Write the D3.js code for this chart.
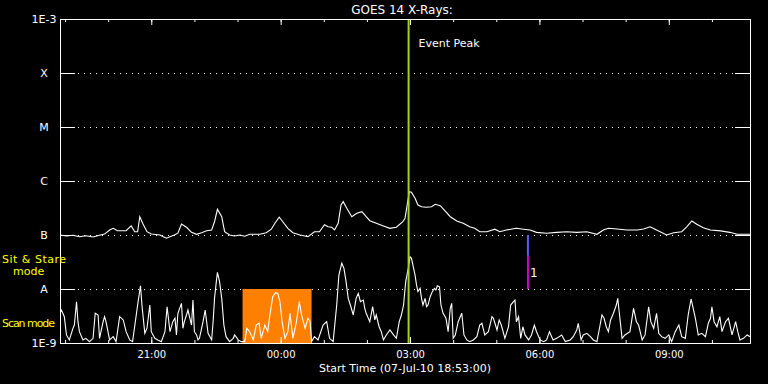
<!DOCTYPE html>
<html>
<head>
<meta charset="utf-8">
<script src="https://cdn.jsdelivr.net/npm/d3@7"></script>
<style>
  html, body { margin: 0; padding: 0; background: #000; }
  svg { display: block; }
  text { font-family: "DejaVu Sans", sans-serif; fill: #fff; }
</style>
</head>
<body>
<svg id="chart" width="768" height="384"></svg>
<script>
// start of the plot: 07-Jul-10 18:53:00 UT, 16 hours shown
const startTime = Date.UTC(2010, 6, 7, 18, 53);
const spanHours = 16;

// flux levels on the log axis and their labels
const levelValues = [1e-9, 1e-8, 1e-7, 1e-6, 1e-5, 1e-4, 1e-3];
const levelLabels = ['1E-9', 'A', 'B', 'C', 'M', 'X', '1E-3'];

// long channel (upper trace), minutes from start / flux W m^-2
const longMinutes = [0, 9, 18, 27, 36, 46, 55, 62, 69, 74, 80, 92, 99, 104, 108, 111, 115, 121, 127, 139,
  148, 159, 164, 169, 176, 183, 190, 197, 204, 211, 215, 219, 225, 229, 236, 243, 250, 257, 264, 278,
  287, 294, 299, 305, 310, 317, 324, 334, 345, 354, 361, 368, 373, 378, 382, 387, 391, 394, 399, 406,
  413, 420, 426, 431, 440, 450, 459, 468, 477, 480, 483, 486, 489, 494, 498, 503, 510, 517, 522, 529,
  536, 543, 552, 561, 570, 577, 584, 594, 605, 612, 621, 635, 645, 654, 663, 677, 691, 705, 719, 733,
  747, 756, 763, 775, 789, 803, 812, 821, 830, 844, 854, 865, 872, 879, 886, 895, 905, 919, 932, 942, 960];
const longFlux = [1.00e-7, 0.96e-7, 0.99e-7, 0.93e-7, 0.97e-7, 0.92e-7, 0.99e-7, 1.04e-7, 1.24e-7, 1.33e-7,
  1.20e-7, 1.20e-7, 1.47e-7, 1.15e-7, 1.15e-7, 2.18e-7, 1.65e-7, 1.15e-7, 1.04e-7, 1.00e-7,
  0.87e-7, 1.00e-7, 1.08e-7, 1.60e-7, 1.39e-7, 1.12e-7, 1.03e-7, 1.10e-7, 1.20e-7, 1.24e-7,
  1.76e-7, 2.99e-7, 2.18e-7, 1.15e-7, 1.00e-7, 0.96e-7, 1.00e-7, 0.95e-7, 1.03e-7, 1.03e-7,
  1.10e-7, 1.28e-7, 1.65e-7, 2.13e-7, 1.76e-7, 1.33e-7, 1.10e-7, 1.00e-7, 0.93e-7, 1.15e-7,
  1.15e-7, 1.55e-7, 1.42e-7, 1.39e-7, 1.24e-7, 1.65e-7, 3.59e-7, 4.14e-7, 3.12e-7, 2.18e-7,
  2.52e-7, 2.70e-7, 2.18e-7, 1.84e-7, 1.65e-7, 1.47e-7, 1.33e-7, 1.39e-7, 1.76e-7, 2.04e-7,
  3.59e-7, 6.34e-7, 6.18e-7, 4.78e-7, 3.59e-7, 3.34e-7, 3.26e-7, 3.34e-7, 3.70e-7, 3.49e-7,
  2.78e-7, 2.18e-7, 1.82e-7, 1.65e-7, 1.42e-7, 1.33e-7, 1.15e-7, 1.15e-7, 1.28e-7, 1.15e-7,
  1.24e-7, 1.33e-7, 1.28e-7, 1.24e-7, 1.12e-7, 1.08e-7, 1.12e-7, 1.15e-7, 1.12e-7, 1.15e-7,
  1.03e-7, 1.24e-7, 1.33e-7, 1.29e-7, 1.24e-7, 1.24e-7, 1.29e-7, 1.42e-7, 1.24e-7, 1.00e-7,
  1.10e-7, 1.15e-7, 1.42e-7, 1.82e-7, 1.58e-7, 1.36e-7, 1.24e-7, 1.19e-7, 1.12e-7, 1.03e-7, 1.03e-7];

// short channel (lower trace), minutes from start / flux W m^-2
const shortMinutes = [0, 2, 6, 9, 13, 18, 20, 23, 25, 27, 32, 36, 41, 46, 49, 53, 55, 60, 62, 64,
  69, 74, 78, 83, 88, 92, 97, 101, 108, 112, 114, 118, 121, 125, 127, 132, 136, 141, 146, 149,
  153, 157, 160, 162, 164, 169, 171, 173, 176, 178, 183, 185, 187, 190, 192, 194, 199, 202, 206, 211,
  213, 215, 218, 219, 222, 225, 228, 231, 236, 241, 243, 248, 252, 257, 260, 264, 269, 273, 277, 280,
  285, 289, 292, 296, 300, 303, 306, 309, 313, 317, 320, 324, 329, 333, 336, 341, 345, 348, 350, 354,
  359, 366, 371, 375, 380, 385, 388, 392, 395, 398, 401, 404, 408, 412, 415, 418, 422, 424, 426, 431,
  435, 438, 440, 444, 447, 450, 454, 459, 464, 468, 472, 475, 478, 481, 485, 487, 489, 491, 494, 496,
  498, 501, 503, 505, 508, 510, 512, 515, 518, 521, 523, 525, 528, 530, 533, 537, 540, 543, 545, 547,
  550, 554, 559, 562, 566, 570, 575, 580, 584, 587, 591, 596, 601, 603, 608, 611, 614, 619, 624, 627,
  631, 633, 635, 638, 641, 644, 647, 652, 656, 660, 663, 668, 673, 677, 681, 686, 691, 698, 703, 710,
  714, 719, 721, 725, 728, 733, 738, 742, 747, 751, 754, 757, 760, 763, 766, 770, 774, 776, 778, 782,
  786, 793, 798, 802, 805, 810, 814, 819, 822, 826, 830, 833, 837, 842, 847, 851, 856, 861, 865, 870,
  874, 878, 880, 884, 888, 893, 898, 902, 905, 907, 910, 914, 918, 921, 926, 930, 935, 940, 943, 946,
  951, 956, 960];
const shortFlux = [3.55e-9, 4.08e-9, 3.07e-9, 1.41e-9, 1.14e-9, 1.87e-9, 2.15e-9, 5.82e-9, 2.48e-9, 1.62e-9,
  1.14e-9, 1.22e-9, 1.06e-9, 1.22e-9, 3.55e-9, 3.30e-9, 1.22e-9, 2.48e-9, 3.07e-9, 2.48e-9,
  1.14e-9, 1.31e-9, 1.06e-9, 3.07e-9, 2.67e-9, 1.62e-9, 1.14e-9, 1.06e-9, 5.05e-9, 11.5e-9,
  5.05e-9, 1.51e-9, 1.87e-9, 5.05e-9, 1.62e-9, 1.22e-9, 1.14e-9, 1.06e-9, 1.62e-9, 4.70e-9,
  1.62e-9, 2.48e-9, 2.87e-9, 1.41e-9, 3.55e-9, 5.43e-9, 1.87e-9, 2.48e-9, 3.30e-9, 4.08e-9,
  2.15e-9, 6.25e-9, 1.62e-9, 1.41e-9, 1.14e-9, 1.22e-9, 2.48e-9, 4.08e-9, 1.51e-9, 1.14e-9,
  2.48e-9, 6.71e-9, 15.8e-9, 20.4e-9, 13.7e-9, 6.71e-9, 2.15e-9, 1.31e-9, 1.06e-9, 1.22e-9,
  1.41e-9, 1.14e-9, 1.06e-9, 1.06e-9, 1.87e-9, 1.62e-9, 1.14e-9, 2.15e-9, 2.32e-9, 1.22e-9,
  2.15e-9, 1.62e-9, 3.30e-9, 7.20e-9, 8.55e-9, 8.30e-9, 5.82e-9, 2.48e-9, 1.22e-9, 1.62e-9,
  3.55e-9, 1.22e-9, 2.48e-9, 5.82e-9, 3.30e-9, 1.87e-9, 2.87e-9, 2.48e-9, 1.06e-9, 1.31e-9,
  1.14e-9, 2.15e-9, 2.48e-9, 1.22e-9, 1.06e-9, 5.05e-9, 18.1e-9, 29.9e-9, 24.2e-9, 13.7e-9,
  6.71e-9, 5.05e-9, 3.30e-9, 6.71e-9, 8.30e-9, 5.82e-9, 6.25e-9, 4.39e-9, 3.55e-9, 2.48e-9,
  4.70e-9, 2.67e-9, 3.30e-9, 2.00e-9, 1.62e-9, 1.14e-9, 1.41e-9, 1.74e-9, 1.41e-9, 1.22e-9,
  2.48e-9, 3.30e-9, 5.05e-9, 13.7e-9, 25.9e-9, 39.7e-9, 37.0e-9, 27.8e-9, 18.1e-9, 11.9e-9,
  8.93e-9, 10.3e-9, 6.71e-9, 5.05e-9, 6.71e-9, 4.70e-9, 5.05e-9, 7.20e-9, 8.93e-9, 10.3e-9,
  9.58e-9, 11.5e-9, 11.0e-9, 5.05e-9, 3.55e-9, 2.87e-9, 1.62e-9, 4.39e-9, 5.43e-9, 1.22e-9,
  1.41e-9, 2.48e-9, 3.55e-9, 1.41e-9, 1.14e-9, 1.06e-9, 1.14e-9, 1.31e-9, 2.15e-9, 2.32e-9,
  1.41e-9, 1.62e-9, 3.07e-9, 2.87e-9, 1.74e-9, 2.67e-9, 2.15e-9, 1.22e-9, 2.00e-9, 5.05e-9,
  5.82e-9, 6.25e-9, 2.48e-9, 3.07e-9, 1.22e-9, 2.00e-9, 1.41e-9, 1.14e-9, 1.41e-9, 2.15e-9,
  1.62e-9, 1.14e-9, 1.06e-9, 1.14e-9, 1.62e-9, 1.14e-9, 1.22e-9, 1.41e-9, 1.06e-9, 1.14e-9,
  1.31e-9, 1.74e-9, 2.32e-9, 1.14e-9, 1.41e-9, 1.51e-9, 1.31e-9, 1.14e-9, 1.06e-9, 2.00e-9,
  3.30e-9, 2.87e-9, 2.00e-9, 1.62e-9, 2.67e-9, 3.55e-9, 5.05e-9, 6.71e-9, 3.80e-9, 1.22e-9,
  1.41e-9, 1.62e-9, 4.39e-9, 2.48e-9, 2.15e-9, 1.14e-9, 1.41e-9, 4.70e-9, 2.48e-9, 1.87e-9,
  3.55e-9, 1.51e-9, 1.31e-9, 1.22e-9, 1.41e-9, 1.06e-9, 1.62e-9, 2.15e-9, 1.31e-9, 1.22e-9,
  3.30e-9, 6.53e-9, 5.05e-9, 2.87e-9, 1.41e-9, 1.51e-9, 1.31e-9, 2.32e-9, 2.87e-9, 4.70e-9,
  2.48e-9, 2.00e-9, 3.07e-9, 1.62e-9, 2.48e-9, 2.87e-9, 1.41e-9, 2.48e-9, 1.62e-9, 1.14e-9,
  1.22e-9, 1.41e-9, 1.31e-9];

// annotations
const eventPeakMinute = 485;          // 02:58
const scanWindow = [254, 350];        // orange block, 23:07 - 00:43
const markerMinute = 651;             // 05:44
const markerBlue = [4.1e-8, 1e-7];
const markerMagenta = [1e-8, 4.1e-8];

////////////////////////////////////////////////////////
const margin = {top: 19, right: 18, bottom: 41, left: 60};
const width = 768 - margin.left - margin.right;
const height = 384 - margin.top - margin.bottom;

const toDate = m => new Date(startTime + m * 60000);

const svg = d3.select('#chart');
const g = svg.append('g')
    .attr('transform', 'translate(' + margin.left + ',' + margin.top + ')');

const x = d3.scaleUtc()
    .domain([new Date(startTime), new Date(startTime + spanHours * 3600000)])
    .range([0, width]);

const y = d3.scaleLog()
    .domain([1e-9, 1e-3])
    .range([height, 0]);

g.append('clipPath').attr('id', 'plotClip')
  .append('rect')
    .attr('width', width)
    .attr('height', height);

// dotted level lines
g.selectAll('.grid')
    .data(levelValues.slice(1, -1))
    .enter().append('line')
    .attr('class', 'grid')
    .attr('x1', 18)
    .attr('x2', width - 16)
    .attr('y1', d => Math.round(y(d)) + 0.5)
    .attr('y2', d => Math.round(y(d)) + 0.5)
    .style('stroke', '#fff')
    .style('stroke-dasharray', '1,5');

// orange scan block
g.append('rect')
    .attr('x', x(toDate(scanWindow[0])))
    .attr('width', x(toDate(scanWindow[1])) - x(toDate(scanWindow[0])))
    .attr('y', y(1e-8))
    .attr('height', y(1e-9) - y(1e-8))
    .style('fill', '#ff8000');

// traces
const line = d3.line()
    .x(d => x(toDate(d[0])))
    .y(d => y(d[1]));

const traces = g.append('g').attr('clip-path', 'url(#plotClip)');
traces.append('path')
    .datum(d3.zip(longMinutes, longFlux))
    .attr('d', line)
    .style('fill', 'none')
    .style('stroke', '#fff')
    .style('stroke-width', 1.1);
traces.append('path')
    .datum(d3.zip(shortMinutes, shortFlux))
    .attr('d', line)
    .style('fill', 'none')
    .style('stroke', '#fff')
    .style('stroke-width', 1.1);

// event peak line
const xPeak = x(toDate(eventPeakMinute));
g.append('line')
    .attr('x1', xPeak).attr('x2', xPeak)
    .attr('y1', 0).attr('y2', height)
    .style('stroke', '#a4d41a')
    .style('stroke-width', 2);
g.append('text')
    .attr('x', xPeak + 10)
    .attr('y', 28)
    .style('font-size', '11px')
    .text('Event Peak');

// marker at 05:44
const xMark = x(toDate(markerMinute));
g.append('line')
    .attr('x1', xMark).attr('x2', xMark)
    .attr('y1', y(markerBlue[1])).attr('y2', y(markerBlue[0]))
    .style('stroke', '#5a5aff')
    .style('stroke-width', 2);
g.append('line')
    .attr('x1', xMark).attr('x2', xMark)
    .attr('y1', y(markerMagenta[1])).attr('y2', y(markerMagenta[0]))
    .style('stroke', '#d000d0')
    .style('stroke-width', 2);
g.append('text')
    .attr('x', xMark + 2)
    .attr('y', y(markerMagenta[0]) - 12)
    .style('font-size', '12px')
    .text('1');

// axes
function styleAxis(sel) {
    sel.selectAll('path, line').style('stroke', '#fff');
    sel.selectAll('text').style('fill', '#fff').style('font-family', '"DejaVu Sans", sans-serif');
}

g.append('g')
    .call(d3.axisTop(x).ticks(d3.utcHour.every(1)).tickSize(-3).tickSizeOuter(0).tickFormat(''))
    .call(styleAxis);
g.append('g')
    .call(d3.axisTop(x).ticks(d3.utcHour.every(3)).tickSize(-6).tickSizeOuter(0).tickFormat(''))
    .call(styleAxis);
g.append('g')
    .attr('transform', 'translate(0,' + height + ')')
    .call(d3.axisBottom(x).ticks(d3.utcHour.every(1)).tickSize(-3).tickSizeOuter(0).tickFormat(''))
    .call(styleAxis);
g.append('g')
    .attr('transform', 'translate(0,' + height + ')')
    .call(d3.axisBottom(x).ticks(d3.utcHour.every(3)).tickSize(-6).tickSizeOuter(0)
        .tickPadding(8).tickFormat(d3.utcFormat('%H:%M')))
    .call(styleAxis)
    .selectAll('text').style('font-size', '10px');

g.append('g')
    .call(d3.axisLeft(y).tickValues(levelValues).tickSize(-15).tickSizeOuter(0)
        .tickFormat((d, i) => levelLabels[i]))
    .call(styleAxis)
    .selectAll('text')
        .attr('x', -16)
        .style('text-anchor', 'middle')
        .style('font-size', '11px');
g.append('g')
    .attr('transform', 'translate(' + width + ',0)')
    .call(d3.axisRight(y).tickValues(levelValues).tickSize(-15).tickSizeOuter(0).tickFormat(''))
    .call(styleAxis);

// titles
svg.append('text')
    .attr('x', 402).attr('y', 14)
    .style('text-anchor', 'middle')
    .style('font-size', '12px')
    .text('GOES 14 X-Rays:');
svg.append('text')
    .attr('x', 405).attr('y', 372)
    .style('text-anchor', 'middle')
    .style('font-size', '11px')
    .text('Start Time (07-Jul-10 18:53:00)');

// mode labels
const modeLabels = svg.append('g').style('font-size', '11px');
modeLabels.append('text').attr('x', 2).attr('y', 263).attr('textLength', 64)
    .style('fill', '#ff0').text('Sit & Stare');
modeLabels.append('text').attr('x', 13).attr('y', 275)
    .style('fill', '#ff0').text('mode');
modeLabels.append('text').attr('x', 2).attr('y', 327).attr('textLength', 53)
    .style('fill', '#ff0').text('Scan mode');
</script>
</body>
</html>
